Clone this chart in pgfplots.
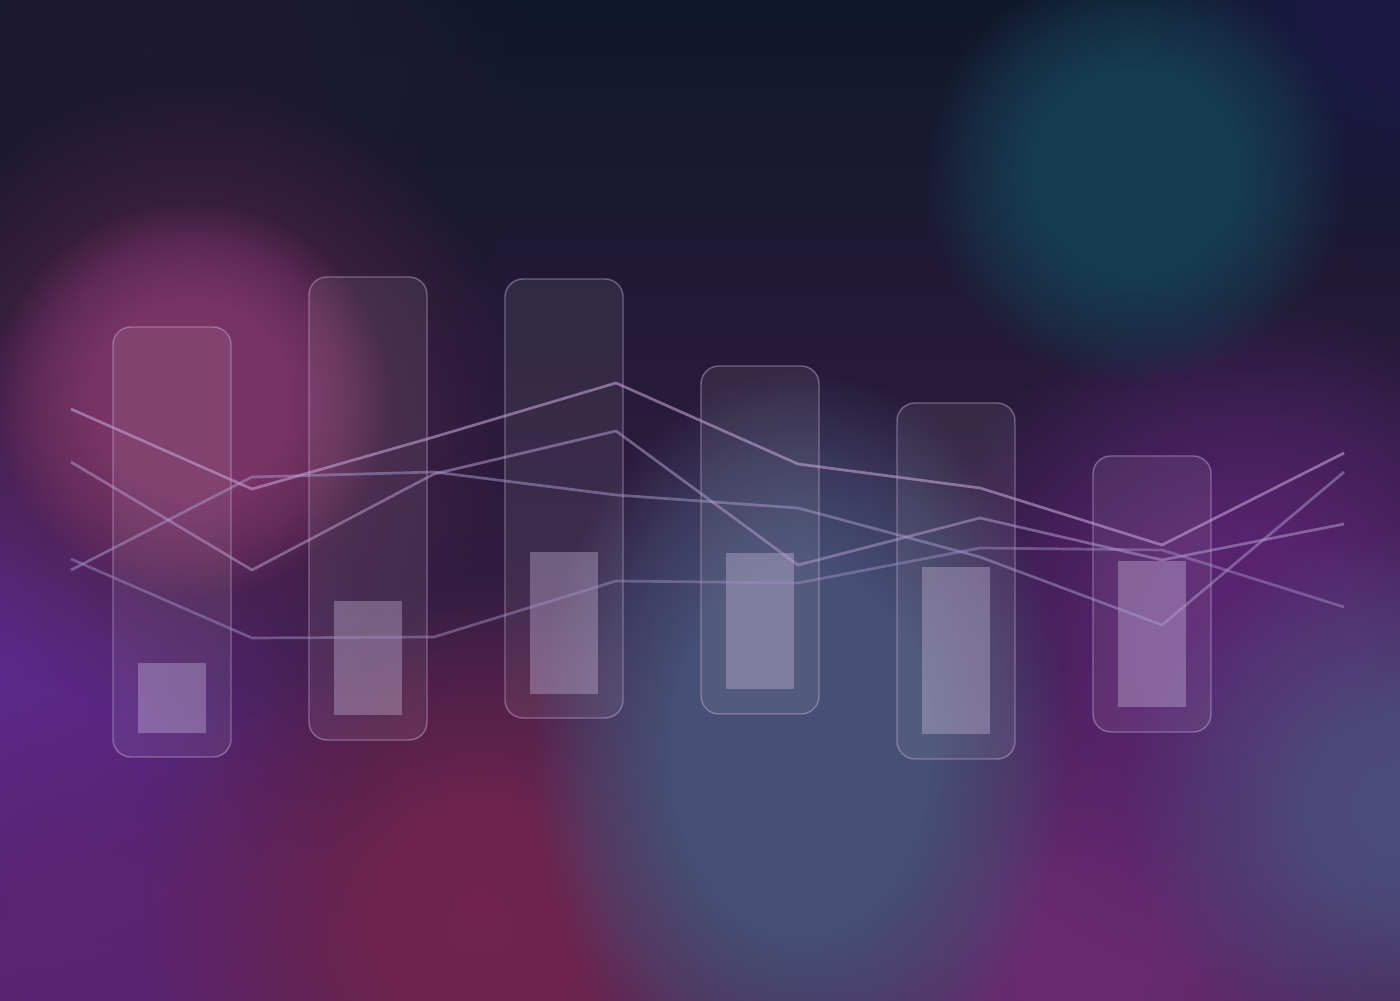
\documentclass[border=0pt]{standalone}
\usepackage{pgfplots}
\pgfplotsset{compat=1.18}
\usetikzlibrary{fadings}

\pgfdeclareradialshading{blobshade}{\pgfpointorigin}{color(0bp)=(white); color(8bp)=(white!92!black); color(17bp)=(white!45!black); color(25bp)=(black); color(50bp)=(black)}
\pgfdeclarefading{blob}{\pgfuseshading{blobshade}}
\pgfdeclareradialshading{discshade}{\pgfpointorigin}{color(0bp)=(white); color(12bp)=(white); color(19bp)=(white!55!black); color(25bp)=(black); color(50bp)=(black)}
\pgfdeclarefading{disc}{\pgfuseshading{discshade}}

\definecolor{bgtop}{HTML}{10172A}
\definecolor{bgmid}{HTML}{281A36}
\definecolor{bgbot}{HTML}{4A2052}
\definecolor{cteal}{HTML}{163C52}
\definecolor{cpink}{HTML}{783466}
\definecolor{cviolet}{HTML}{5C2A8C}
\definecolor{cslate}{HTML}{464F74}
\definecolor{cmag}{HTML}{70244F}
\definecolor{cplum}{HTML}{5A2472}
\definecolor{cblue}{HTML}{4C4C7C}
\definecolor{cpurp}{HTML}{6A2A70}
\definecolor{cdark}{HTML}{1E1A32}
\definecolor{cnavy}{HTML}{1C1A44}
\definecolor{cdpink}{HTML}{4E2248}

\definecolor{lineA}{HTML}{C0A0D0}
\definecolor{lineB}{HTML}{B098C8}
\definecolor{lineC}{HTML}{A89CCC}
\definecolor{lineD}{HTML}{9C8CC0}
\definecolor{rimc}{HTML}{C8B0D8}
\definecolor{barc}{HTML}{D4C4E4}

\pgfplotsset{
  outerbar/.style={draw=rimc, draw opacity=0.45, fill=white, fill opacity=0.07, line width=0.7pt, rounded corners=9pt, mark=none, sharp plot},
  innerbar/.style={draw=none, fill=barc, fill opacity=0.34, mark=none, sharp plot},
  trend/.style={line width=1.35pt, mark=none, sharp plot, line join=round},
}

\begin{document}
\begin{tikzpicture}
\begin{axis}[width=700pt,height=500pt,scale only axis,
  xmin=0,xmax=1400,ymin=0,ymax=1000,hide axis,at={(0,0)},anchor=south west]
\shade[top color=bgtop, middle color=bgmid, bottom color=bgbot] (axis cs:0,0) rectangle (axis cs:1400,1000);
\fill[cdark, path fading=blob] (axis cs:150,950) circle[radius=200pt];
\fill[cnavy, path fading=blob] (axis cs:1400,1000) circle[radius=130pt];
\fill[cviolet, path fading=blob] (axis cs:0,300) circle[radius=190pt];
\fill[cplum, path fading=blob] (axis cs:100,40) circle[radius=150pt];
\fill[cmag, path fading=blob] (axis cs:480,80) circle[radius=170pt];
\fill[cpurp, path fading=blob] (axis cs:1080,40) circle[radius=150pt];
\fill[cplum, path fading=blob] (axis cs:1250,360) circle[radius=170pt];
\fill[cblue, path fading=blob] (axis cs:1400,190) circle[radius=140pt];
\fill[cdpink, path fading=blob] (axis cs:195,600) circle[radius=160pt];
\fill[cslate, path fading=disc] (axis cs:800,250) ellipse[x radius=135pt, y radius=190pt];
\fill[cpink, path fading=disc] (axis cs:190,600) circle[radius=100pt];
\fill[cteal, path fading=disc] (axis cs:1135,828) circle[radius=106pt];

% outer range boxes
\addplot[outerbar] coordinates {(113,243) (231,243) (231,673) (113,673)} -- cycle;
\addplot[outerbar] coordinates {(309,260) (427,260) (427,723) (309,723)} -- cycle;
\addplot[outerbar] coordinates {(505,282) (623,282) (623,721) (505,721)} -- cycle;
\addplot[outerbar] coordinates {(701,286) (819,286) (819,634) (701,634)} -- cycle;
\addplot[outerbar] coordinates {(897,241) (1015,241) (1015,597) (897,597)} -- cycle;
\addplot[outerbar] coordinates {(1093,268) (1211,268) (1211,544) (1093,544)} -- cycle;

% inner bars
\addplot[innerbar] coordinates {(138,267) (206,267) (206,337) (138,337)} -- cycle;
\addplot[innerbar] coordinates {(334,285) (402,285) (402,399) (334,399)} -- cycle;
\addplot[innerbar] coordinates {(530,306) (598,306) (598,448) (530,448)} -- cycle;
\addplot[innerbar] coordinates {(726,311) (794,311) (794,447) (726,447)} -- cycle;
\addplot[innerbar] coordinates {(922,266) (990,266) (990,433) (922,433)} -- cycle;
\addplot[innerbar] coordinates {(1118,293) (1186,293) (1186,439) (1118,439)} -- cycle;

% lines
\addplot[trend, lineA, opacity=0.6] coordinates {(71,591) (252,511) (434,563) (616,617) (798,536) (980,512) (1162,455) (1344,547)};
\addplot[trend, lineB, opacity=0.55] coordinates {(71,538) (252,430) (434,526) (616,569) (798,435) (980,482) (1162,440) (1344,476)};
\addplot[trend, lineC, opacity=0.5] coordinates {(71,430) (252,523) (434,528) (616,505) (798,492) (980,443) (1162,375) (1344,528)};
\addplot[trend, lineD, opacity=0.5] coordinates {(71,441) (252,362) (434,363) (616,419) (798,417) (980,452) (1162,450) (1344,393)};
\end{axis}
\pgfresetboundingbox
\path[use as bounding box] (0,0) rectangle (700pt,500pt);
\end{tikzpicture}
\end{document}
